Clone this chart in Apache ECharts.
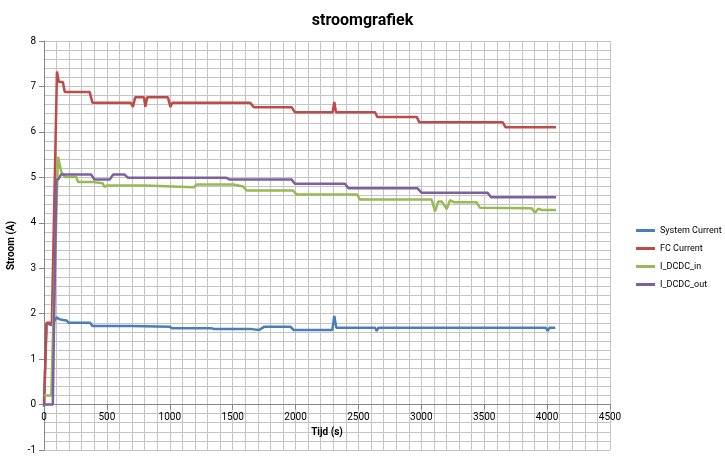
<!DOCTYPE html>
<html>
<head>
<meta charset="utf-8">
<title>stroomgrafiek</title>
<script src="https://cdn.jsdelivr.net/npm/echarts@6/dist/echarts.min.js"></script>
<style>
  html, body { margin: 0; padding: 0; background: #ffffff; }
  #chart { width: 725px; height: 465px; }
</style>
</head>
<body>
<div id="chart"></div>
<script>
// Measured currents over time: [tijd (s), stroom (A)]
const seriesNames = ['System Current', 'FC Current', 'I_DCDC_in', 'I_DCDC_out'];

const systemCurrent = [
  [0, -0.05], [20, 1.78], [62, 1.75], [100, 1.92], [120, 1.88], [150, 1.86], [180, 1.85],
  [195, 1.80], [366, 1.80], [385, 1.73], [697, 1.73], [712, 1.71], [1002, 1.71],
  [1018, 1.68], [1333, 1.68], [1350, 1.66], [1650, 1.66], [1665, 1.64], [1710, 1.64],
  [1749, 1.71], [1961, 1.71], [1985, 1.64], [2292, 1.64], [2308, 1.95], [2324, 1.69],
  [2632, 1.69], [2645, 1.62], [2660, 1.69], [3990, 1.69], [4004, 1.62], [4020, 1.69],
  [4065, 1.69]
];

const fcCurrent = [
  [0, 0], [20, 1.80], [48, 1.80], [62, 1.75], [103, 7.33], [118, 7.10], [150, 7.10],
  [165, 6.88], [363, 6.88], [385, 6.64], [690, 6.64], [707, 6.55], [725, 6.76],
  [795, 6.76], [806, 6.55], [820, 6.76], [985, 6.76], [1005, 6.55], [1020, 6.64],
  [1640, 6.64], [1668, 6.54], [1970, 6.54], [1995, 6.43], [2295, 6.43], [2308, 6.66],
  [2322, 6.43], [2632, 6.43], [2650, 6.33], [2963, 6.33], [2985, 6.21], [3647, 6.21],
  [3670, 6.10], [4071, 6.10]
];

const dcdcIn = [
  [0, 0.20], [58, 0.20], [111, 5.45], [138, 5.12], [165, 5.01], [257, 5.01], [270, 4.90],
  [379, 4.90], [390, 4.87], [465, 4.87], [482, 4.79], [500, 4.82], [800, 4.82],
  [814, 4.78], [1190, 4.78], [1212, 4.84], [1340, 4.84], [1355, 4.85], [1380, 4.84],
  [1505, 4.84], [1520, 4.80], [1585, 4.80], [1610, 4.71], [1980, 4.71], [2009, 4.62],
  [2490, 4.62], [2512, 4.51], [3082, 4.51], [3109, 4.25], [3135, 4.47], [3162, 4.47],
  [3202, 4.30], [3228, 4.50], [3260, 4.45], [3440, 4.45], [3466, 4.33], [3877, 4.32],
  [3904, 4.22], [3930, 4.31], [3960, 4.28], [4071, 4.28]
];

const dcdcOut = [
  [0, 0], [70, 0], [98, 4.94], [115, 4.96], [135, 5.06], [376, 5.06], [400, 4.95],
  [522, 4.95], [549, 5.06], [641, 5.06], [668, 4.99], [1450, 4.99], [1475, 4.95],
  [1969, 4.95], [1995, 4.86], [2393, 4.86], [2420, 4.76], [2968, 4.76], [3003, 4.66],
  [3527, 4.66], [3554, 4.56], [4071, 4.56]
];

const seriesData = [systemCurrent, fcCurrent, dcdcIn, dcdcOut];
const seriesColors = ['#4a7ebb', '#be4b48', '#98b954', '#7d60a0'];

const FONT = 'Roboto, "Liberation Sans", sans-serif';
const gridColor = '#c4c4c4';
const axisColor = '#868686';

// Plot area and value range of the current axis
const GRID = { left: 44, right: 115, top: 41, bottom: 15 };
const Y_MIN = -1, Y_MAX = 8;
const plotHeight = 465 - GRID.top - GRID.bottom;
// Time axis sits on the zero line of the current axis
const zeroOffset = -plotHeight * (0 - Y_MIN) / (Y_MAX - Y_MIN);

const chart = echarts.init(document.getElementById('chart'), null, { renderer: 'canvas' });

chart.setOption({
  animation: false,
  backgroundColor: '#ffffff',
  textStyle: { fontFamily: FONT },
  title: {
    text: 'stroomgrafiek',
    left: 'center',
    top: 8,
    textStyle: { fontFamily: FONT, fontSize: 16, fontWeight: 'bold', color: '#000000' }
  },
  legend: {
    orient: 'vertical',
    left: 631,
    top: 219,
    icon: 'rect',
    itemWidth: 19,
    itemHeight: 3,
    itemGap: 5,
    data: seriesNames,
    textStyle: { fontFamily: FONT, fontSize: 9, color: '#000000', lineHeight: 13 }
  },
  grid: {
    left: GRID.left, right: GRID.right, top: GRID.top, bottom: GRID.bottom,
    containLabel: false, outerBoundsMode: 'none'
  },
  xAxis: {
    type: 'value',
    min: 0,
    max: 4500,
    interval: 500,
    offset: zeroOffset,
    name: 'Tijd (s)',
    nameLocation: 'middle',
    nameGap: 21,
    nameTextStyle: { fontFamily: FONT, fontSize: 10, fontWeight: 'bold', color: '#000000' },
    axisLine: { show: true, onZero: false, lineStyle: { color: axisColor, width: 1 } },
    axisTick: { show: true, length: 5, lineStyle: { color: axisColor } },
    axisLabel: {
      fontFamily: FONT, fontSize: 10, color: '#000000', margin: 8,
      formatter: function (v) { return String(v); }
    },
    splitLine: { show: true, lineStyle: { color: gridColor, width: 1 } },
    minorTick: { show: false, splitNumber: 5 },
    minorSplitLine: { show: true, lineStyle: { color: gridColor, width: 1 } }
  },
  yAxis: {
    type: 'value',
    min: Y_MIN,
    max: Y_MAX,
    interval: 1,
    name: 'Stroom (A)',
    nameLocation: 'middle',
    nameGap: 25,
    nameRotate: 90,
    nameTextStyle: { fontFamily: FONT, fontSize: 10, fontWeight: 'bold', color: '#000000' },
    axisLine: { show: true, lineStyle: { color: axisColor, width: 1 } },
    axisTick: { show: true, length: 5, lineStyle: { color: axisColor } },
    axisLabel: {
      fontFamily: FONT, fontSize: 10, color: '#000000', margin: 8,
      formatter: function (v) { return String(v); }
    },
    splitLine: { show: true, lineStyle: { color: gridColor, width: 1 } },
    minorTick: { show: false, splitNumber: 5 },
    minorSplitLine: { show: true, lineStyle: { color: gridColor, width: 1 } }
  },
  series: seriesNames.map(function (name, i) {
    return {
      name: name,
      type: 'line',
      data: seriesData[i],
      symbol: 'none',
      showSymbol: false,
      smooth: false,
      color: seriesColors[i],
      lineStyle: { color: seriesColors[i], width: 2.5 },
      z: 3
    };
  })
});
</script>
</body>
</html>
